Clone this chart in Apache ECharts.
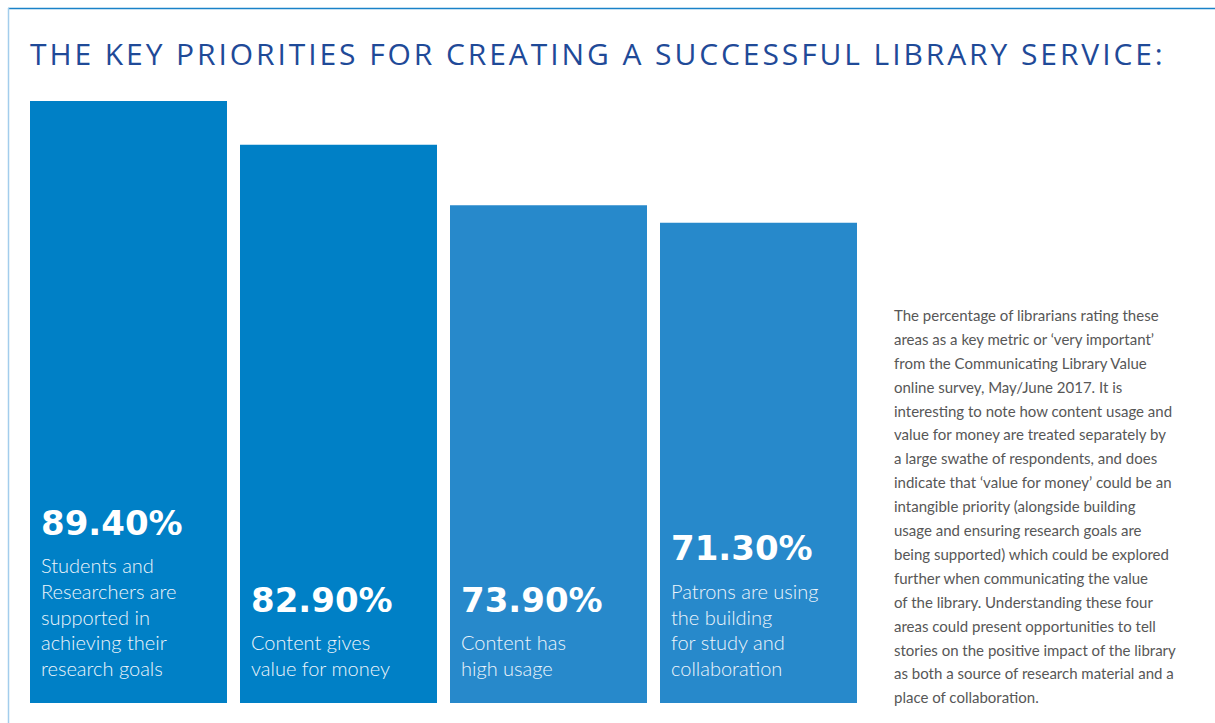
<!DOCTYPE html>
<html>
<head>
<meta charset="utf-8">
<script src="https://cdn.jsdelivr.net/npm/echarts@6/dist/echarts.min.js"></script>
<style>
html,body{margin:0;padding:0;background:#fff;}
#chart{width:1215px;height:723px;}
</style>
</head>
<body>
<div id="chart"></div>
<script>
const titleText = 'THE KEY PRIORITIES FOR CREATING A SUCCESSFUL LIBRARY SERVICE:';
const categories = [
  'Students and Researchers are supported in achieving their research goals',
  'Content gives value for money',
  'Content has high usage',
  'Patrons are using the building for study and collaboration'
];
const values = [89.4, 82.9, 73.9, 71.3];
const descLines = [
  ['Students and', 'Researchers are', 'supported in', 'achieving their', 'research goals'],
  ['Content gives', 'value for money'],
  ['Content has', 'high usage'],
  ['Patrons are using', 'the building', 'for study and', 'collaboration']
];
const barColors = ['#0080c6', '#0080c6', '#2789cb', '#2789cb'];
const noteLines = [
  'The percentage of librarians rating these',
  'areas as a key metric or \u2018very important\u2019',
  'from the Communicating Library Value',
  'online survey, May/June 2017. It is',
  'interesting to note how content usage and',
  'value for money are treated separately by',
  'a large swathe of respondents, and does',
  'indicate that \u2018value for money\u2019 could be an',
  'intangible priority (alongside building',
  'usage and ensuring research goals are',
  'being supported) which could be explored',
  'further when communicating the value',
  'of the library. Understanding these four',
  'areas could present opportunities to tell',
  'stories on the positive impact of the library',
  'as both a source of research material and a',
  'place of collaboration.'
];

const chart = echarts.init(document.getElementById('chart'), null, {renderer: 'svg'});
chart.setOption({
  animation: false,
  backgroundColor: '#ffffff',
  title: {
    text: titleText,
    left: 25,
    top: 33,
    textStyle: {
      fontFamily: 'Open Sans',
      fontSize: 30,
      fontWeight: 'normal',
      color: '#1f4a98'
    }
  },
  grid: {left: 23.5, right: 351.5, top: 29.6, bottom: 20},
  xAxis: {
    type: 'category',
    data: categories,
    show: false
  },
  yAxis: {
    type: 'value',
    min: 0,
    max: 100,
    show: false
  },
  series: [{
    type: 'bar',
    barWidth: 197,
    data: values.map((v, i) => ({value: v, itemStyle: {color: barColors[i]}})),
    label: {
      show: true,
      position: 'insideBottomLeft',
      distance: 11,
      offset: [0, -11],
      align: 'left',
      verticalAlign: 'bottom',
      formatter: (p) => '{p|' + values[p.dataIndex].toFixed(2) + '%}\n' +
        descLines[p.dataIndex].map(l => '{d|' + l + '}').join('\n'),
      rich: {
        p: {
          fontFamily: 'DejaVu Sans',
          fontWeight: 'bold',
          fontSize: 34,
          lineHeight: 60,
          color: '#ffffff'
        },
        d: {
          fontFamily: 'Lato',
          fontWeight: 300,
          fontSize: 20,
          lineHeight: 25.7,
          color: '#eef5fb'
        }
      }
    }
  }],
  graphic: [
    {
      type: 'line',
      shape: {x1: 8, y1: 8.5, x2: 1215, y2: 8.5},
      style: {stroke: '#1a82c8', lineWidth: 1.5}
    },
    {
      type: 'line',
      shape: {x1: 8.5, y1: 8, x2: 8.5, y2: 723},
      style: {stroke: '#a3cdec', lineWidth: 1.5}
    },
    {
      type: 'text',
      x: 894,
      y: 303,
      style: {
        text: noteLines.join('\n'),
        fontFamily: 'Lato',
        fontSize: 15,
        lineHeight: 23.9,
        fill: '#575757'
      }
    }
  ]
});

// widen the title's tracking to match the letter-spaced heading
const targetTitleWidth = 1133;
document.querySelectorAll('#chart svg text').forEach(function (t) {
  if (t.textContent === titleText && t.getComputedTextLength) {
    const w = t.getComputedTextLength();
    const gap = (targetTitleWidth - w) / (titleText.length - 1);
    if (gap > 0) t.setAttribute('letter-spacing', gap.toFixed(2));
  }
});
</script>
</body>
</html>
